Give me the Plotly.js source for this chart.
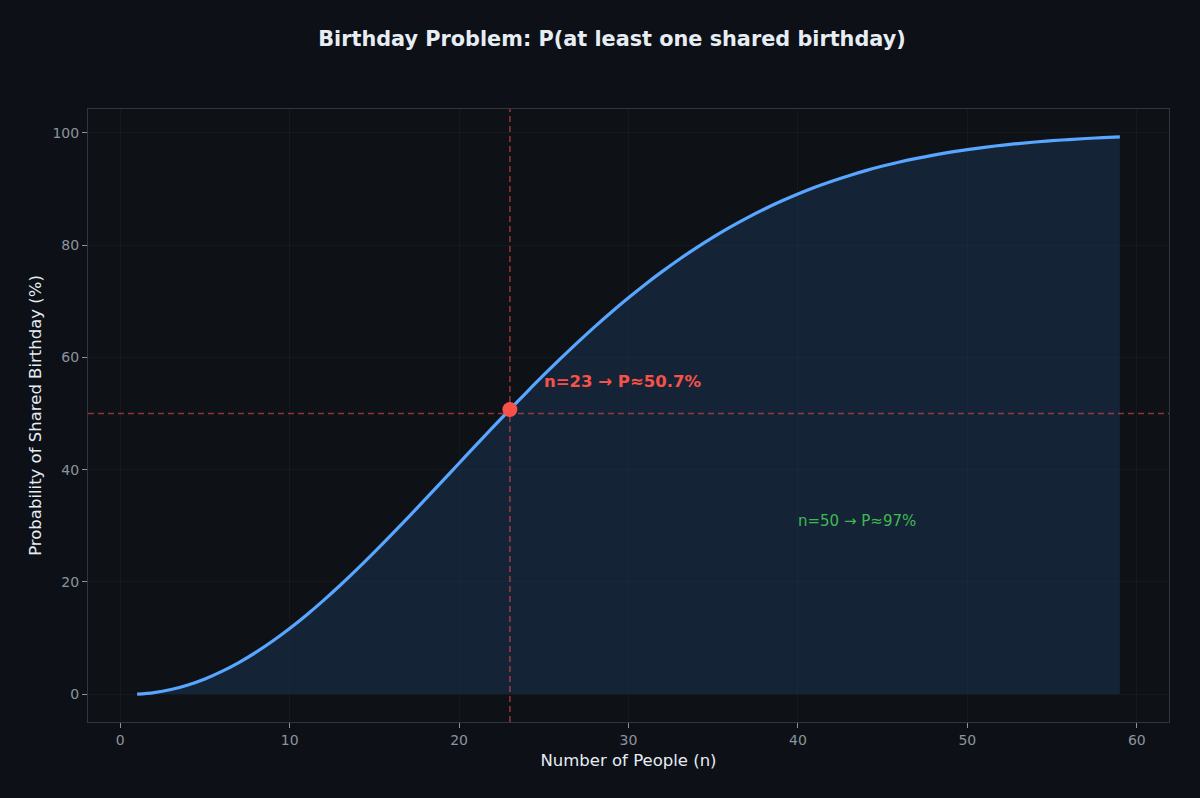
<!DOCTYPE html>
<html>
<head>
<meta charset="utf-8">
<script src="https://cdn.plot.ly/plotly-3.0.1.min.js"></script>
<style>
  html, body { margin: 0; padding: 0; background: #0d1117; }
  #graph { width: 1200px; height: 798px; }
</style>
</head>
<body>
<div id="graph"></div>
<script>
// group sizes and the probability of a shared birthday (%)
var people = [1, 2, 3, 4, 5, 6, 7, 8, 9, 10, 11, 12, 13, 14, 15, 16, 17, 18, 19, 20,
  21, 22, 23, 24, 25, 26, 27, 28, 29, 30, 31, 32, 33, 34, 35, 36, 37, 38, 39, 40,
  41, 42, 43, 44, 45, 46, 47, 48, 49, 50, 51, 52, 53, 54, 55, 56, 57, 58, 59];
var probPct = [0, 0.27, 0.82, 1.64, 2.71, 4.05, 5.62, 7.43, 9.46, 11.69,
  14.11, 16.70, 19.44, 22.31, 25.29, 28.36, 31.50, 34.69, 37.91, 41.14,
  44.37, 47.57, 50.73, 53.83, 56.87, 59.82, 62.69, 65.45, 68.10, 70.63,
  73.05, 75.33, 77.50, 79.53, 81.44, 83.22, 84.87, 86.41, 87.82, 89.12,
  90.32, 91.40, 92.39, 93.29, 94.10, 94.83, 95.48, 96.06, 96.58, 97.04,
  97.44, 97.80, 98.11, 98.39, 98.63, 98.83, 99.01, 99.17, 99.30];
var markN = [23];
var markP = [50.73];
var halfLine = 50;
var xTicks = [0, 10, 20, 30, 40, 50, 60];
var yTicks = [0, 20, 40, 60, 80, 100];

var curve = {
  x: people,
  y: probPct,
  mode: 'lines',
  fill: 'tozeroy',
  fillcolor: 'rgba(30, 58, 95, 0.45)',
  line: { color: '#58a6ff', width: 3.2, shape: 'spline' },
  hoverinfo: 'x+y',
  showlegend: false
};

var dot = {
  x: markN,
  y: markP,
  mode: 'markers',
  marker: { color: '#f85149', size: 15 },
  showlegend: false
};

var layout = {
  width: 1200,
  height: 798,
  paper_bgcolor: '#0d1117',
  plot_bgcolor: '#0e1116',
  font: { family: 'DejaVu Sans, sans-serif', color: '#8b949e', size: 14 },
  title: {
    text: '<b>Birthday Problem: P(at least one shared birthday)</b>',
    font: { size: 20.8, color: '#e6edf3' },
    x: 0.51, xanchor: 'center', y: 0.952, yanchor: 'middle'
  },
  margin: { l: 88, r: 31, t: 109, b: 76 },
  xaxis: {
    range: [-1.9, 61.9],
    tickvals: xTicks,
    ticks: 'outside', ticklen: 5, tickcolor: '#8b949e',
    showgrid: true, gridcolor: 'rgba(48, 54, 61, 0.22)', gridwidth: 1,
    zeroline: false,
    showline: true, mirror: true, linecolor: '#30363d', linewidth: 1,
    tickfont: { size: 14, color: '#8b949e' },
    title: { text: 'Number of People (n)', font: { size: 16.5, color: '#e6edf3' }, standoff: 7 }
  },
  yaxis: {
    range: [-4.97, 104.27],
    tickvals: yTicks,
    ticks: 'outside', ticklen: 5, tickcolor: '#8b949e',
    showgrid: true, gridcolor: 'rgba(48, 54, 61, 0.22)', gridwidth: 1,
    zeroline: false,
    showline: true, mirror: true, linecolor: '#30363d', linewidth: 1,
    tickfont: { size: 14, color: '#8b949e' },
    title: { text: 'Probability of Shared Birthday (%)', font: { size: 16.5, color: '#e6edf3' }, standoff: 6 }
  },
  shapes: [
    { type: 'line', xref: 'x', yref: 'paper', x0: markN[0], x1: markN[0], y0: 0, y1: 1,
      line: { color: 'rgba(248, 81, 73, 0.55)', width: 1.6, dash: '6px,4px' }, layer: 'above' },
    { type: 'line', xref: 'paper', yref: 'y', x0: 0, x1: 1, y0: halfLine, y1: halfLine,
      line: { color: 'rgba(248, 81, 73, 0.55)', width: 1.6, dash: '6px,4px' }, layer: 'above' }
  ],
  annotations: [
    { x: 25, y: 55.7, xref: 'x', yref: 'y', xanchor: 'left', yanchor: 'middle', xshift: -2,
      text: '<b>n=23 → P≈50.7%</b>', showarrow: false,
      font: { size: 16.5, color: '#f85149' } },
    { x: 40, y: 30.8, xref: 'x', yref: 'y', xanchor: 'left', yanchor: 'middle', xshift: -2,
      text: 'n=50 → P≈97%', showarrow: false,
      font: { size: 15, color: '#3fb950' } }
  ]
};

Plotly.newPlot('graph', [curve, dot], layout, { displayModeBar: false });
</script>
</body>
</html>
